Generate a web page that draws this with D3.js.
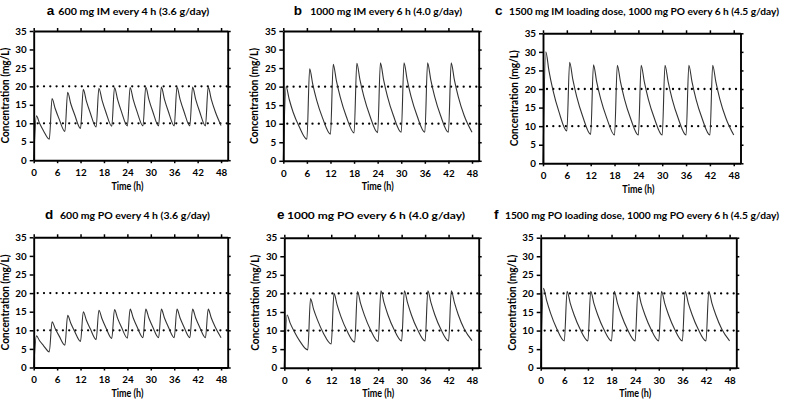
<!DOCTYPE html>
<html>
<head>
<meta charset="utf-8">
<script src="https://cdn.jsdelivr.net/npm/d3@7"></script>
<style>
    body { margin: 0; background: #fff; }
    svg { display: block; font-family: Lato, "Open Sans", sans-serif; }
</style>
</head>
<body>
<svg id="chart" width="785" height="401"></svg>
<script>
// --- Data ---
const yTicks = [0, 5, 10, 15, 20, 25, 30, 35];
const xTicks = [0, 6, 12, 18, 24, 30, 36, 42, 48];
const targetLevels = [10, 20];

// sample times (h): dose, peak, two points on the decay ... end at 48 h
const timesQ4 = [0, 0.7, 1.5, 2.5, 4, 4.7, 5.5, 6.5, 8, 8.7, 9.5, 10.5,
    12, 12.7, 13.5, 14.5, 16, 16.7, 17.5, 18.5, 20, 20.7, 21.5, 22.5,
    24, 24.7, 25.5, 26.5, 28, 28.7, 29.5, 30.5, 32, 32.7, 33.5, 34.5,
    36, 36.7, 37.5, 38.5, 40, 40.7, 41.5, 42.5, 44, 44.7, 45.5, 46.5, 48];
const timesQ6 = [0, 0.7, 1.5, 2.5, 4, 6, 6.7, 7.5, 8.5, 10,
    12, 12.7, 13.5, 14.5, 16, 18, 18.7, 19.5, 20.5, 22,
    24, 24.7, 25.5, 26.5, 28, 30, 30.7, 31.5, 32.5, 34,
    36, 36.7, 37.5, 38.5, 40, 42, 42.7, 43.5, 44.5, 46, 48];

// concentrations (mg/L)
const concA = [0, 12.0, 10.0, 8.0, 5.7, 16.7, 14.0, 11.2, 7.8, 18.4, 15.3, 12.3,
    8.6, 19.2, 16.0, 12.8, 9.0, 19.5, 16.3, 13.0, 9.2, 19.7, 16.4, 13.1,
    9.3, 19.7, 16.4, 13.1, 9.3, 19.8, 16.5, 13.2, 9.3, 19.8, 16.5, 13.2,
    9.3, 19.8, 16.5, 13.2, 9.3, 19.8, 16.5, 13.2, 9.3, 19.8, 16.5, 13.2, 9.4];
const concB = [0, 20.0, 16.6, 13.1, 9.3, 5.8, 24.8, 20.6, 16.3, 11.5,
    7.2, 26.0, 21.6, 17.1, 12.0, 7.5, 26.3, 21.8, 17.3, 12.2,
    7.6, 26.4, 21.9, 17.3, 12.2, 7.7, 26.4, 21.9, 17.3, 12.2,
    7.7, 26.4, 21.9, 17.3, 12.2, 7.7, 26.4, 21.9, 17.3, 12.2, 7.7];
const concC = [0, 30.0, 24.9, 19.7, 13.9, 8.7, 27.2, 22.6, 17.9, 12.6,
    7.8, 26.5, 22.0, 17.4, 12.3, 7.6, 26.4, 21.9, 17.3, 12.2,
    7.6, 26.4, 21.9, 17.3, 12.2, 7.6, 26.4, 21.9, 17.3, 12.2,
    7.6, 26.4, 21.9, 17.3, 12.2, 7.6, 26.4, 21.9, 17.3, 12.2, 7.6];
const concD = [0, 8.5, 7.2, 5.9, 4.2, 12.3, 10.5, 8.5, 6.0, 14.0, 11.9, 9.7,
    7.0, 15.0, 12.7, 10.4, 7.5, 15.4, 13.1, 10.7, 7.8, 15.6, 13.2, 10.8,
    7.9, 15.7, 13.3, 10.9, 8.0, 15.7, 13.3, 10.9, 8.0, 15.7, 13.3, 10.9,
    8.0, 15.7, 13.3, 10.9, 8.0, 15.7, 13.3, 10.9, 8.0, 15.7, 13.3, 10.9, 8.0];
const concE = [0, 14.2, 12.0, 9.8, 7.1, 4.8, 18.6, 15.7, 12.8, 9.3,
    6.4, 20.0, 16.9, 13.7, 10.0, 6.9, 20.5, 17.3, 14.1, 10.3,
    7.1, 20.7, 17.5, 14.2, 10.4, 7.2, 20.7, 17.5, 14.2, 10.4,
    7.2, 20.7, 17.5, 14.2, 10.4, 7.2, 20.7, 17.5, 14.2, 10.4, 7.3];
const concF = [0, 21.4, 18.1, 14.7, 10.7, 7.2, 20.6, 17.4, 14.2, 10.4,
    7.2, 20.6, 17.4, 14.2, 10.4, 7.2, 20.6, 17.4, 14.2, 10.4,
    7.2, 20.6, 17.4, 14.2, 10.4, 7.2, 20.6, 17.4, 14.2, 10.4,
    7.2, 20.6, 17.4, 14.2, 10.4, 7.2, 20.6, 17.4, 14.2, 10.4, 7.2];

const panelLetters = ['a', 'b', 'c', 'd', 'e', 'f'];
const panelTitles = [
    '600 mg IM every 4 h (3.6 g/day)',
    '1000 mg IM every 6 h (4.0 g/day)',
    '1500 mg IM loading dose, 1000 mg PO every 6 h (4.5 g/day)',
    '600 mg PO every 4 h (3.6 g/day)',
    '1000 mg PO every 6 h (4.0 g/day)',
    '1500 mg PO loading dose, 1000 mg PO every 6 h (4.5 g/day)'
];
const panelTimes = [timesQ4, timesQ6, timesQ6, timesQ4, timesQ6, timesQ6];
const panelConc = [concA, concB, concC, concD, concE, concF];

// --- Layout (pixels) ---
const boxes = [
    { l: 33.7, r: 227.7, t: 31, b: 160.2 },
    { l: 283.3, r: 478.7, t: 31, b: 160.8 },
    { l: 543, r: 740.5, t: 33.3, b: 163.3 },
    { l: 33.7, r: 227.7, t: 237.3, b: 367.5 },
    { l: 284.3, r: 478.7, t: 237.7, b: 367.7 },
    { l: 540.7, r: 736.3, t: 237.7, b: 367.7 }
];
// letter x, title text start, title text end, baseline
const titlePos = [
    [46.7, 58.3, 209.3, 14.5],
    [293.7, 310.3, 462, 14.5],
    [495, 509, 779, 14.5],
    [45, 60, 210, 219],
    [277, 287, 465, 219],
    [494, 505, 779, 219]
];
const X_MAX = 49.7;

const svg = d3.select('#chart');

panelLetters.forEach((letter, i) => {
    const box = boxes[i];
    const x = d3.scaleLinear().domain([0, X_MAX]).range([box.l, box.r]);
    const y = d3.scaleLinear().domain([0, 35]).range([box.b, box.t]);
    const g = svg.append('g');

    // target range lines
    g.selectAll('.target').data(targetLevels).enter().append('line')
        .attr('x1', x(0) + 4).attr('x2', x(X_MAX))
        .attr('y1', d => y(d)).attr('y2', d => y(d))
        .attr('stroke', '#000').attr('stroke-width', 2.3)
        .attr('stroke-linecap', 'round').attr('stroke-dasharray', '0 6.3');

    // concentration curve
    const pts = panelTimes[i].map((t, k) => [t, panelConc[i][k]]);
    const line = d3.line().x(d => x(d[0])).y(d => y(d[1])).curve(d3.curveMonotoneX);
    g.append('path').datum(pts).attr('d', line)
        .attr('fill', 'none').attr('stroke', '#333').attr('stroke-width', 1.1);

    // axes (box with outward ticks on all sides)
    const left = g.append('g').attr('transform', `translate(${box.l},0)`)
        .call(d3.axisLeft(y).tickValues(yTicks).tickSize(4).tickSizeOuter(0).tickPadding(3));
    const right = g.append('g').attr('transform', `translate(${box.r},0)`)
        .call(d3.axisRight(y).tickValues(yTicks).tickSize(3).tickSizeOuter(0).tickFormat(''));
    const top = g.append('g').attr('transform', `translate(0,${box.t})`)
        .call(d3.axisTop(x).tickValues(xTicks).tickSize(3).tickSizeOuter(0).tickFormat(''));
    const bottom = g.append('g').attr('transform', `translate(0,${box.b})`)
        .call(d3.axisBottom(x).tickValues(xTicks).tickSize(3).tickSizeOuter(0).tickPadding(6));

    [left, right, top, bottom].forEach(ax => {
        ax.select('.domain').attr('stroke', '#000').attr('stroke-width', 1.9);
        ax.selectAll('.tick line').attr('stroke', '#000').attr('stroke-width', 1.5);
        ax.selectAll('.tick text').attr('fill', '#000')
            .style('font-size', '9.8px').style('font-weight', 700)
            .style('font-family', 'Lato, sans-serif');
    });

    // axis labels
    g.append('text')
        .attr('transform', `translate(${box.l - 25},${(box.t + box.b) / 2}) rotate(-90)`)
        .attr('text-anchor', 'middle')
        .attr('textLength', 96).attr('lengthAdjust', 'spacingAndGlyphs')
        .style('font-size', '10.5px').style('font-weight', 700)
        .text('Concentration (mg/L)');
    g.append('text')
        .attr('x', x(24)).attr('y', box.b + 29.5)
        .attr('text-anchor', 'middle')
        .attr('textLength', 32).attr('lengthAdjust', 'spacingAndGlyphs')
        .style('font-size', '10.5px').style('font-weight', 700)
        .text('Time (h)');

    // panel title
    const tp = titlePos[i];
    g.append('text').attr('x', tp[0]).attr('y', tp[3])
        .style('font-family', '"Liberation Sans", Arial, sans-serif')
        .style('font-size', '13.5px').style('font-weight', 700)
        .text(letter);
    g.append('text').attr('x', tp[1]).attr('y', tp[3])
        .attr('textLength', tp[2] - tp[1]).attr('lengthAdjust', 'spacingAndGlyphs')
        .style('font-size', '9.6px').style('font-weight', 700)
        .text(panelTitles[i]);
});
</script>
</body>
</html>
